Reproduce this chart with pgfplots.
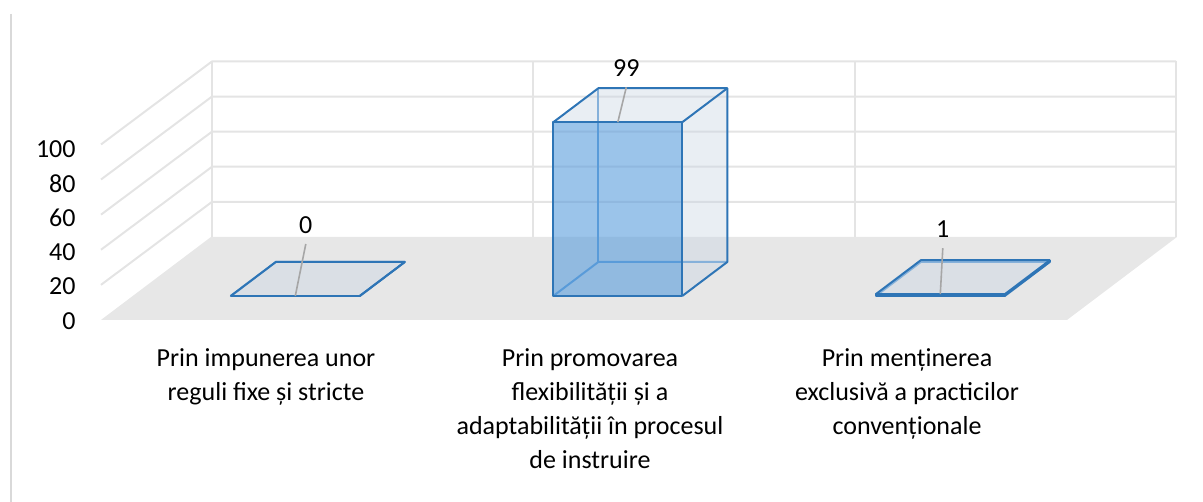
\documentclass[border=0pt]{standalone}
\usepackage{fontspec}
\setmainfont{Carlito}
\usepackage{pgfplots}
\pgfplotsset{compat=1.18}

\definecolor{edgeblue}{RGB}{46,117,182}
\definecolor{hidblue}{RGB}{91,155,213}
\definecolor{faceblue}{RGB}{88,156,220}
\definecolor{sideface}{RGB}{200,212,226}
\definecolor{floorgray}{RGB}{231,231,231}
\definecolor{gridgray}{RGB}{228,228,228}
\definecolor{leadgray}{RGB}{166,166,166}
\definecolor{bordergray}{RGB}{217,217,217}

\tikzset{
  grid line/.style={draw=gridgray, line width=1pt, mark=none},
  hidden edge/.style={draw=hidblue, line width=1pt, mark=none},
  bar edge/.style={draw=edgeblue, line width=1pt, line join=round, mark=none},
  front face/.style={draw=none, fill=faceblue, fill opacity=0.6, mark=none},
  side face/.style={draw=none, fill=sideface, fill opacity=0.4, mark=none},
  leader/.style={draw=leadgray, line width=0.8pt, mark=none},
}
\newcommand{\lblfont}{\fontsize{13}{17}\selectfont}

% one bar: #1 left edge, #2 value, #3 leader shift (px), #4 leader rise (value units)
\newcommand{\cuboid}[4]{%
  \pgfmathsetmacro\xa{#1}%
  \pgfmathsetmacro\xb{#1+129}%
  \pgfmathsetmacro\xc{#1+64.5}%
  \pgfmathsetmacro\xl{#1+64.5+#3}%
  \pgfmathsetmacro\zl{#2+#4}%
  \addplot3[hidden edge] coordinates {(\xa,0.289,0) (\xa,0.699,0) (\xb,0.699,0)};
  \addplot3[hidden edge] coordinates {(\xa,0.699,0) (\xa,0.699,#2)};
  \addplot3[front face] coordinates {(\xa,0.289,0) (\xb,0.289,0) (\xb,0.289,#2) (\xa,0.289,#2)} -- cycle;
  \addplot3[side face] coordinates {(\xb,0.289,0) (\xb,0.699,0) (\xb,0.699,#2) (\xb,0.289,#2)} -- cycle;
  \addplot3[side face] coordinates {(\xa,0.289,#2) (\xb,0.289,#2) (\xb,0.699,#2) (\xa,0.699,#2)} -- cycle;
  \addplot3[bar edge] coordinates {(\xa,0.289,0) (\xb,0.289,0) (\xb,0.289,#2) (\xa,0.289,#2)} -- cycle;
  \addplot3[bar edge] coordinates {(\xa,0.289,#2) (\xa,0.699,#2) (\xb,0.699,#2) (\xb,0.699,0) (\xb,0.289,0)};
  \addplot3[bar edge] coordinates {(\xb,0.289,#2) (\xb,0.699,#2)};
  \addplot3[leader] coordinates {(\xc,0.289,#2) (\xl,0.289,\zl)}
    node[pos=1, anchor=south, yshift=5pt, inner sep=0pt, text=black, text opacity=1, font=\lblfont] {#2};
}

\begin{document}
\begin{tikzpicture}
\begin{axis}[
  x={(0.5pt,0pt)}, y={(55pt,41.5pt)}, z={(0pt,0.8775pt)},
  xmin=0, xmax=1203, ymin=0, ymax=1, zmin=-104, zmax=183,
  hide axis, clip=false,
]
% floor
\addplot3[draw=none, fill=floorgray, mark=none] coordinates {(101,0,0) (1067,0,0) (1067,1,0) (101,1,0)} -- cycle;
% side and back walls
\pgfplotsinvokeforeach{20,40,60,80,100}{
  \addplot3[grid line] coordinates {(101,0,#1) (102,1,#1) (1066,1,#1)};
}
\pgfplotsinvokeforeach{102,423.3,744.7,1066}{
  \addplot3[grid line] coordinates {(#1,1,0) (#1,1,100)};
}
% bars
\cuboid{199}{0}{10.5}{29.6}
\cuboid{521.5}{99}{8.5}{19.9}
\cuboid{844}{1}{2.5}{26.2}
% value ticks
\pgfplotsinvokeforeach{0,20,40,60,80,100}{
  \node[anchor=east, inner sep=0pt, font=\lblfont] at (axis cs:76,0,{0.98*#1-0.6}) {#1};
}
% categories
\node[anchor=north, inner sep=0pt, align=center, font=\lblfont] at (axis cs:266,0,-16)
  {Prin impunerea unor\\reguli fixe și stricte};
\node[anchor=north, inner sep=0pt, align=center, font=\lblfont] at (axis cs:590,0,-16)
  {Prin promovarea\\flexibilității și a\\adaptabilității în procesul\\de instruire};
\node[anchor=north, inner sep=0pt, align=center, font=\lblfont] at (axis cs:907,0,-16)
  {Prin menținerea\\exclusivă a practicilor\\convenționale};
% frame edge
\draw[draw=bordergray, line width=1pt] (axis cs:11,0,174.4) -- (axis cs:11,0,-103.7);
\coordinate (bl) at (axis cs:0,0,-103.7);
\coordinate (tr) at (axis cs:1203,0,182.3);
\end{axis}
\pgfresetboundingbox
\path[use as bounding box] (bl) rectangle (tr);
\end{tikzpicture}
\end{document}
